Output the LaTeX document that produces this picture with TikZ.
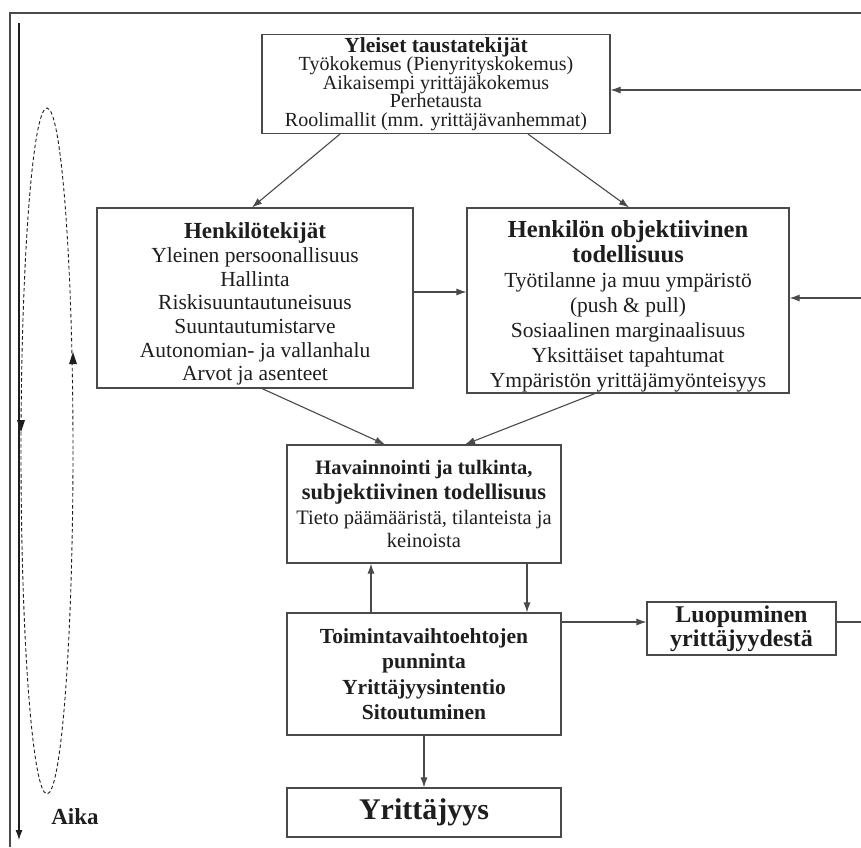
\documentclass[tikz,border=0pt]{standalone}
\usepackage{fontspec}
\setmainfont{Liberation Serif}
\usetikzlibrary{arrows.meta,calc}

\definecolor{ink}{HTML}{1E1E1E}
\definecolor{rule}{HTML}{4A4A4A}

% bold heading line at a given size
\newcommand{\hd}[2][23]{{\fontsize{#1}{#1}\bfseries #2}}
% extra room above the first line of a box
\newcommand{\topgap}[1]{\rule{0pt}{#1}}

\tikzset{
  box/.style={draw=rule, line width=1.1pt, align=center, inner sep=0pt,
    text=ink, font=\fontsize{21.5}{23.7}\selectfont},
  conn/.style={draw=rule, line width=1.1pt, -{Latex[length=10pt,width=7pt]}},
  frameline/.style={draw=rule, line width=1.8pt},
  loopline/.style={draw=ink, line width=0.9pt, dash pattern=on 3.5pt off 2.5pt},
}

\begin{document}
\begin{tikzpicture}[x=1pt, y=-1pt]
  \useasboundingbox (0,0) rectangle (861,847);
  \clip (0,0) rectangle (861,847);
  \fill[white] (0,0) rectangle (861,847);

  % open frame around the whole model
  \draw[frameline] (10,847) -- (10,13) -- (861,13);

  % time axis
  \coordinate (t0) at (19,23);
  \coordinate (t1) at (19,840);
  \draw[conn, draw=ink] (t0) -- (t1);
  \node[text=ink, font=\fontsize{23}{24}\bfseries] (aika) at (75,817) {Aika};

  % dashed cycle with direction marks
  \draw[loopline] (47,451) ellipse [x radius=26, y radius=343];
  \fill[ink] (73,352) -- (69,364) -- (77,364) -- cycle;
  \fill[ink] (21,432) -- (17,420) -- (25,420) -- cycle;

  % boxes
  \node[box, minimum width=348, minimum height=99, font=\fontsize{20}{18.5}\selectfont] (A) at (436,84)
    {\hd[21.5]{Yleiset taustatekijät}\\
     Työkokemus (Pienyrityskokemus)\\
     Aikaisempi yrittäjäkokemus\\
     Perhetausta\\
     Roolimallit (mm. yrittäjävanhemmat)};

  \node[box, minimum width=316, minimum height=180] (B) at (255,298)
    {\topgap{28pt}\hd{Henkilötekijät}\\
     Yleinen persoonallisuus\\
     Hallinta\\
     Riskisuuntautuneisuus\\
     Suuntautumistarve\\
     Autonomian- ja vallanhalu\\
     Arvot ja asenteet};

  \node[box, minimum width=322, minimum height=185, font=\fontsize{21.5}{25}\selectfont] (C) at (628,300.5)
    {\topgap{28pt}\hd[24.5]{Henkilön objektiivinen}\\
     \hd[24.5]{todellisuus}\\
     Työtilanne ja muu ympäristö\\
     (push \& pull)\\
     Sosiaalinen marginaalisuus\\
     Yksittäiset tapahtumat\\
     Ympäristön yrittäjämyönteisyys};

  \node[box, minimum width=274, minimum height=118, font=\fontsize{20.5}{25}\selectfont] (D) at (424,504)
    {\hd[20.5]{Havainnointi ja tulkinta,}\\
     \hd[22.5]{subjektiivinen todellisuus}\\
     Tieto päämääristä, tilanteista ja\\[-2pt]
     keinoista};

  \node[box, minimum width=274, minimum height=122, font=\fontsize{21.5}{25.5}\bfseries] (E) at (424,674)
    {Toimintavaihtoehtojen\\
     punninta\\
     Yrittäjyysintentio\\
     Sitoutuminen};

  \node[box, minimum width=189, minimum height=53, font=\fontsize{24}{24}\bfseries] (F) at (741.5,628.5)
    {Luopuminen\\
     yrittäjyydestä};

  \node[box, minimum width=274, minimum height=49, font=\fontsize{30}{32}\bfseries] (G) at (424,812.5)
    {Yrittäjyys};

  % connectors
  \draw[conn] ([xshift=-96pt]A.south) -- ([xshift=-3pt]B.north);
  \draw[conn] ([xshift=92pt]A.south) -- ([xshift=1pt]C.north);
  \draw[conn] ([yshift=6pt]B.east) -- ([yshift=6pt]B.east -| C.west);
  \draw[conn] ([xshift=7pt]B.south) -- ([xshift=-39pt]D.north);
  \draw[conn] ([xshift=-33pt]C.south) -- ([xshift=41pt]D.north);
  \draw[conn] ([xshift=-53pt]E.north) -- ([xshift=-53pt]D.south);
  \draw[conn] ([xshift=103pt]D.south) -- ([xshift=103pt]E.north);
  \coordinate (fin) at ([yshift=6.5pt]F.west);
  \draw[conn] (E.east |- fin) -- (fin);
  \draw[conn] (E.south) -- (G.north);

  % feedback from giving up back to the top and the environment
  \coordinate (fout) at ([yshift=6.5pt]F.east);
  \coordinate (rb) at (867,622);
  \coordinate (rt) at (867,90);
  \coordinate (rc) at (867,298);
  \draw[draw=rule, line width=1.1pt] (fout) -- (rb) -- (rt);
  \draw[conn] (rt) -- (rt -| A.east);
  \draw[conn] (rc) -- (rc -| C.east);
\end{tikzpicture}
\end{document}
